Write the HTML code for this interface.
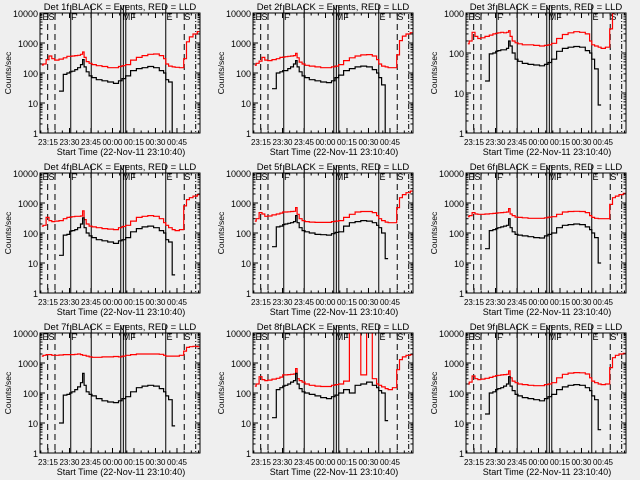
<!DOCTYPE html>
<html><head><meta charset="utf-8">
<style>
html,body{margin:0;padding:0;background:#efefef;}
svg{display:block;font-family:"Liberation Sans",sans-serif;}
</style></head>
<body>
<svg id="fig" width="640" height="480" viewBox="0 0 640 480" xmlns="http://www.w3.org/2000/svg">
<rect x="0" y="0" width="640" height="480" fill="#efefef"/>
</svg>
<script>
const n = null;
const times = [0,2,4,6,8,10,14,16,19,20, 22,24,26,28,29,30,32,34,36,40, 44,48,52,55,57,60,64,68,72,76, 80,84,86,87,90,92,94,98,100,102, 104,107,110];
const xTickLabels = ["23:15","23:30","23:45","00:00","00:15","00:30","00:45"];
const xTickTimes = [4.33,19.33,34.33,49.33,64.33,79.33,94.33];
const detNames = ["1f","2f","3f","4f","5f","6f","7f","8f","9f"];
const yMaxDecade = [4,4,3,4,4,4,4,4,4];
const red1 = [185,200,280,370,300,270,290,320,360,360, 370,380,390,420,500,330,240,210,190,175, 165,150,150,165,175,190,270,330,380,420, 430,380,300,200,170,160,155,150,300,1100, 1600,2000,2400];
const black1 = [n,n,n,n,n,n,25,90,100,110, 115,130,150,190,280,160,110,80,70,60, 55,50,45,55,65,80,120,140,150,165, 150,120,100,60,50,1,n,n,n,n, n,n,n];
const red2 = [180,210,250,330,270,260,280,300,330,340, 350,360,370,380,450,320,230,200,180,170, 160,150,150,160,170,190,260,320,370,400, 410,370,280,200,170,160,150,150,400,1200, 1700,2000,2200];
const black2 = [n,n,n,n,n,n,30,100,110,120, 120,140,160,200,260,160,110,80,70,60, 55,50,48,55,70,85,120,140,160,170, 160,130,100,70,40,1,n,n,n,n, n,n,n];
const red3 = [170,200,330,260,230,240,260,280,300,310, 320,330,320,330,360,260,200,180,170,160, 160,155,150,155,160,175,230,290,320,340, 330,300,200,160,150,140,130,140,400,1000, 1500,2000,3000];
const black3 = [n,n,n,n,n,n,20,95,100,110, 115,120,120,130,200,150,100,70,62,55, 52,50,48,52,58,70,110,130,140,145, 140,115,100,70,40,5,n,n,n,n, n,n,n];
const red4 = [170,180,330,260,240,250,260,300,330,340, 350,360,360,370,550,280,200,170,160,150, 140,135,130,150,165,180,250,330,360,380, 360,300,220,180,150,130,120,130,800,1300, 1500,1700,1900];
const black4 = [n,n,n,n,n,n,18,85,90,115, 120,130,150,200,320,150,100,80,70,60, 55,50,45,55,60,70,110,140,160,170, 150,120,100,60,50,4,n,n,n,n, n,n,n];
const red5 = [250,300,480,430,360,370,400,430,460,500, 500,510,520,530,700,420,300,260,240,230, 225,225,225,240,250,260,330,420,500,520, 520,480,380,300,260,230,220,220,700,1500, 1900,2200,2500];
const black5 = [n,n,n,n,n,n,35,160,170,190, 200,210,220,240,380,220,150,120,110,100, 90,88,85,95,105,110,170,220,240,260, 250,220,180,150,100,14,n,n,n,n, n,n,n];
const red6 = [350,380,480,430,420,420,430,440,450,460, 470,480,490,500,650,430,380,340,330,320, 310,310,310,320,340,350,420,500,520,530, 520,480,380,330,310,300,300,300,900,1500, 1700,1900,2100];
const black6 = [n,n,n,n,n,n,30,120,130,140, 150,160,170,180,300,150,110,90,85,80, 75,70,68,80,90,100,150,180,190,200, 190,160,130,100,70,10,n,n,n,n, n,n,n];
const red7 = [1700,1800,1900,1900,1800,1800,1850,1900,1900,1900, 1900,1950,2000,1900,1800,1800,1700,1600,1550,1550, 1600,1600,1650,1600,1700,1800,1900,2000,2000,2000, 2000,1950,1800,1700,1700,1700,1700,1800,2500,3300, 3500,3600,3500];
const black7 = [n,n,n,n,n,n,10,85,90,100, 110,130,160,220,450,180,110,90,80,65, 55,50,48,55,65,75,110,150,170,180, 170,140,110,80,60,8,n,n,n,n, n,n,n];
const red8 = [170,200,350,280,260,270,290,310,340,400, 400,410,420,430,650,300,260,230,200,180, 170,165,165,180,190,200,250,20000,20000,400, 20000,300,200,180,160,140,130,150,600,1300, 1600,1800,1900];
const black8 = [n,n,n,n,n,n,15,130,150,170, 180,200,230,260,450,200,140,110,100,90, 80,70,65,75,85,100,130,100,180,200, 230,180,150,120,100,12,n,n,n,n, n,n,n];
const red9 = [200,230,370,300,280,290,310,330,360,380, 390,400,410,420,550,320,250,220,200,190, 180,175,175,190,200,220,320,420,460,480, 470,430,320,250,220,200,190,200,700,1500, 1800,2000,2100];
const black9 = [n,n,n,n,n,n,20,100,110,130, 140,150,170,200,350,170,120,90,80,70, 65,60,55,65,75,90,130,160,180,190, 180,150,120,80,60,6,n,n,n,n, n,n,n];
const redSeries = [red1,red2,red3,red4,red5,red6,red7,red8,red9];
const blackSeries = [black1,black2,black3,black4,black5,black6,black7,black8,black9];
const solidLineTimes = [20.2,34.5,55.1,56.9,58.6,86.5];
const dashedLineTimes = [4.1,9.2,99.4];
const dashDotLineTimes = [107.4];
const phaseLabels = ["ES","F","MF","E","S"];
const phaseLabelTimes = [0.5,20.5,56.5,87,99.5];

const NS = "http://www.w3.org/2000/svg";
const fig = document.getElementById("fig");
const PL = 40, PR = 200, PT = 13, PB = 133;
function mk(tag, attrs, parent) {
  const e = document.createElementNS(NS, tag);
  for (const k in attrs) e.setAttribute(k, attrs[k]);
  parent.appendChild(e);
  return e;
}
function xScale(t) { return 41.8 + 1.433 * t; }

for (let p = 0; p < 9; p++) {
  const ox = (p % 3) * 213, oy = Math.floor(p / 3) * 160;
  const top = yMaxDecade[p];
  const yScale = v => PB - (Math.log10(v) / top) * (PB - PT);
  const g = mk("g", {transform: `translate(${ox},${oy})`}, fig);
  
  
  const clipId = "clip" + p;
  const cp = mk("clipPath", {id: clipId}, g);
  mk("rect", {x: PL, y: PT, width: PR - PL, height: PB - PT}, cp);

  const title = mk("text", {x: 120, y: 10, "font-size": 9.5, "text-anchor": "middle", fill: "#000"}, g);
  title.textContent = "Det " + detNames[p] + " BLACK = Events, RED = LLD";
  
  

  solidLineTimes.forEach(t => {
    const l = mk("line", {x1: xScale(t), x2: xScale(t), y1: 5, y2: PB, stroke: "#000", "stroke-width": 1}, g);
    
    
  });
  dashedLineTimes.forEach(t => {
    const l = mk("line", {x1: xScale(t), x2: xScale(t), y1: 14, y2: PB, stroke: "#000", "stroke-width": 1, "stroke-dasharray": "6,4"}, g);
    
    
  });
  dashDotLineTimes.forEach(t => {
    const l = mk("line", {x1: xScale(t), x2: xScale(t), y1: 14, y2: PB, stroke: "#000", "stroke-width": 1, "stroke-dasharray": "5,2,1,2"}, g);
    
    
  });
  phaseLabels.forEach((s, i) => {
    const tx = mk("text", {x: xScale(phaseLabelTimes[i]), y: 20, "font-size": 9, fill: "#000"}, g);
    tx.textContent = s;
    
    
  });

  function drawSeries(vals, color, name) {
    let d = "", pen = false, lastY = 0;
    for (let i = 0; i < times.length; i++) {
      const v = vals[i];
      if (v === null) { pen = false; continue; }
      const x0 = xScale(i > 0 ? (times[i - 1] + times[i]) / 2 : times[i]);
      const x1 = xScale(i < times.length - 1 ? (times[i] + times[i + 1]) / 2 : times[i]);
      const y = Math.max(-50, yScale(v));
      if (!pen) d += "M" + x0.toFixed(1) + "," + y.toFixed(1);
      else d += "L" + x0.toFixed(1) + "," + y.toFixed(1);
      d += "L" + x1.toFixed(1) + "," + y.toFixed(1);
      pen = true;
    }
    const path = mk("path", {d: d, fill: "none", stroke: color, "stroke-width": 1.2, "clip-path": `url(#${clipId})`}, g);
    
    
  }
  drawSeries(redSeries[p], "#ff0000", "lld-series-red");
  drawSeries(blackSeries[p], "#000000", "events-series-black");

  const fr = mk("rect", {x: PL, y: PT, width: PR - PL, height: PB - PT, fill: "none", stroke: "#000", "stroke-width": 1}, g);
  
  

  for (let dec = 0; dec <= top; dec++) {
    const y = yScale(Math.pow(10, dec));
    mk("line", {x1: PL, x2: PL + 5, y1: y, y2: y, stroke: "#000"}, g);
    mk("line", {x1: PR, x2: PR - 5, y1: y, y2: y, stroke: "#000"}, g);
    const lab = mk("text", {x: PL - 2, y: y + 4, "font-size": 9, "text-anchor": "end", fill: "#000"}, g);
    lab.textContent = String(Math.pow(10, dec));
    
    
    if (dec < top) for (let m = 2; m <= 9; m++) {
      const ym = yScale(m * Math.pow(10, dec));
      mk("line", {x1: PL, x2: PL + 2.5, y1: ym, y2: ym, stroke: "#000"}, g);
      mk("line", {x1: PR, x2: PR - 2.5, y1: ym, y2: ym, stroke: "#000"}, g);
    }
  }
  const yl = mk("text", {x: 0, y: 0, "font-size": 8.5, "text-anchor": "middle", fill: "#000", transform: `translate(11,${(PT + PB) / 2}) rotate(-90)`}, g);
  yl.textContent = "Counts/sec";
  
  

  for (let t = -0.67; t <= 110; t += 5) {
    const x = xScale(t);
    if (x < PL || x > PR) continue;
    mk("line", {x1: x, x2: x, y1: PB, y2: PB - 2.5, stroke: "#000"}, g);
    mk("line", {x1: x, x2: x, y1: PT, y2: PT + 2.5, stroke: "#000"}, g);
  }
  xTickTimes.forEach((t, i) => {
    const x = xScale(t);
    mk("line", {x1: x, x2: x, y1: PB, y2: PB - 5, stroke: "#000"}, g);
    mk("line", {x1: x, x2: x, y1: PT, y2: PT + 5, stroke: "#000"}, g);
    const lab = mk("text", {x: x, y: 145, "font-size": 8, "text-anchor": "middle", fill: "#000"}, g);
    lab.textContent = xTickLabels[i];
    
    
  });
  const xl = mk("text", {x: 121, y: 155, "font-size": 9, "text-anchor": "middle", fill: "#000"}, g);
  xl.textContent = "Start Time (22-Nov-11 23:10:40)";
  
  
}
</script>
</body></html>
